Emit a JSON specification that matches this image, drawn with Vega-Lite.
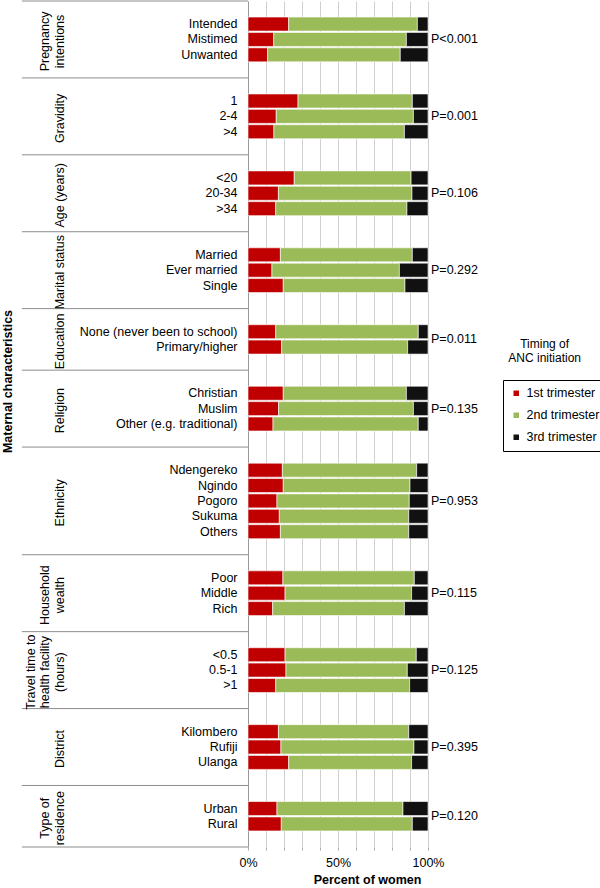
{
  "$schema": "https://vega.github.io/schema/vega-lite/v6.json",
  "width": 180,
  "height": 846,
  "autosize": {"type": "none"},
  "padding": {"left": 248, "top": 1, "right": 172, "bottom": 41},
  "background": "white",
  "config": {
    "font": "Liberation Sans", "view": {"stroke": null}, "text": {"font": "Liberation Sans"},
    "axisX": {
      "grid": true, "gridColor": "#d0d0d0", "tickSize": 3, "tickColor": "#aaaaaa", "domain": false,
      "labelOverlap": false, "labelFlush": false, "labelFontSize": 12.5, "labelColor": "black", "labelPadding": 6,
      "titleFontSize": 12.5, "titleFontWeight": "bold", "titleColor": "black", "titlePadding": 5
    }
  },
  "datasets": {
    "bars": [
      {"item": "Intended", "1st trimester": 22.6, "2nd trimester": 71.5, "3rd trimester": 5.9},
      {"item": "Mistimed", "1st trimester": 14.3, "2nd trimester": 73.7, "3rd trimester": 12.0},
      {"item": "Unwanted", "1st trimester": 10.9, "2nd trimester": 73.7, "3rd trimester": 15.4},
      {"item": "1", "1st trimester": 27.8, "2nd trimester": 63.5, "3rd trimester": 8.7},
      {"item": "2-4", "1st trimester": 15.7, "2nd trimester": 76.2, "3rd trimester": 8.1},
      {"item": ">4", "1st trimester": 14.4, "2nd trimester": 72.5, "3rd trimester": 13.1},
      {"item": "<20", "1st trimester": 25.7, "2nd trimester": 64.9, "3rd trimester": 9.4},
      {"item": "20-34", "1st trimester": 16.9, "2nd trimester": 74.2, "3rd trimester": 8.9},
      {"item": ">34", "1st trimester": 15.4, "2nd trimester": 72.9, "3rd trimester": 11.7},
      {"item": "Married", "1st trimester": 18.0, "2nd trimester": 73.3, "3rd trimester": 8.7},
      {"item": "Ever married", "1st trimester": 13.3, "2nd trimester": 70.8, "3rd trimester": 15.9},
      {"item": "Single", "1st trimester": 19.6, "2nd trimester": 67.6, "3rd trimester": 12.8},
      {"item": "None (never been to school)", "1st trimester": 15.4, "2nd trimester": 79.2, "3rd trimester": 5.4},
      {"item": "Primary/higher", "1st trimester": 18.7, "2nd trimester": 70.0, "3rd trimester": 11.3},
      {"item": "Christian", "1st trimester": 19.6, "2nd trimester": 68.4, "3rd trimester": 12.0},
      {"item": "Muslim", "1st trimester": 17.0, "2nd trimester": 74.9, "3rd trimester": 8.1},
      {"item": "Other (e.g. traditional)", "1st trimester": 13.9, "2nd trimester": 80.7, "3rd trimester": 5.4},
      {"item": "Ndengereko", "1st trimester": 19.1, "2nd trimester": 74.6, "3rd trimester": 6.3},
      {"item": "Ngindo", "1st trimester": 19.6, "2nd trimester": 70.4, "3rd trimester": 10.0},
      {"item": "Pogoro", "1st trimester": 16.1, "2nd trimester": 73.5, "3rd trimester": 10.4},
      {"item": "Sukuma", "1st trimester": 17.4, "2nd trimester": 71.9, "3rd trimester": 10.7},
      {"item": "Others", "1st trimester": 18.0, "2nd trimester": 71.3, "3rd trimester": 10.7},
      {"item": "Poor", "1st trimester": 19.4, "2nd trimester": 73.0, "3rd trimester": 7.6},
      {"item": "Middle", "1st trimester": 20.6, "2nd trimester": 70.3, "3rd trimester": 9.1},
      {"item": "Rich", "1st trimester": 13.7, "2nd trimester": 73.2, "3rd trimester": 13.1},
      {"item": "<0.5", "1st trimester": 20.6, "2nd trimester": 72.9, "3rd trimester": 6.5},
      {"item": "0.5-1", "1st trimester": 21.1, "2nd trimester": 67.4, "3rd trimester": 11.5},
      {"item": ">1", "1st trimester": 15.4, "2nd trimester": 74.4, "3rd trimester": 10.2},
      {"item": "Kilombero", "1st trimester": 16.9, "2nd trimester": 72.4, "3rd trimester": 10.7},
      {"item": "Rufiji", "1st trimester": 18.3, "2nd trimester": 73.9, "3rd trimester": 7.8},
      {"item": "Ulanga", "1st trimester": 22.6, "2nd trimester": 68.3, "3rd trimester": 9.1},
      {"item": "Urban", "1st trimester": 16.1, "2nd trimester": 70.0, "3rd trimester": 13.9},
      {"item": "Rural", "1st trimester": 18.5, "2nd trimester": 72.8, "3rd trimester": 8.7}
    ],
    "groups": [
      {"item": "Mistimed", "label": "Pregnancy\nintentions", "p": "P<0.001", "even": false},
      {"item": "2-4", "label": "Gravidity", "p": "P=0.001", "even": false},
      {"item": "20-34", "label": "Age (years)", "p": "P=0.106", "even": false},
      {"item": "Ever married", "label": "Marital status", "p": "P=0.292", "even": false},
      {"item": "None (never been to school)", "label": "Education", "p": "P=0.011", "even": true},
      {"item": "Muslim", "label": "Religion", "p": "P=0.135", "even": false},
      {"item": "Pogoro", "label": "Ethnicity", "p": "P=0.953", "even": false},
      {"item": "Middle", "label": "Household\nwealth", "p": "P=0.115", "even": false},
      {"item": "0.5-1", "label": "Travel time to\nhealth facility\n(hours)", "p": "P=0.125", "even": false},
      {"item": "Rufiji", "label": "District", "p": "P=0.395", "even": false},
      {"item": "Urban", "label": "Type of\nresidence", "p": "P=0.120", "even": true}
    ],
    "seps": [
      {"item": "_1a"}, {"item": "_2a"}, {"item": "_3a"}, {"item": "_4a"}, {"item": "_5a"}, {"item": "_6a"},
      {"item": "_7a"}, {"item": "_8a"}, {"item": "_9a"}, {"item": "_10a"}, {"item": "_11a"}
    ],
    "sepEnd": [{"item": "_11b"}],
    "legendTitle": [{"t": "Timing of\nANC initiation"}]
  },
  "layer": [
    {
      "data": {"name": "bars"},
      "transform": [{"fold": ["1st trimester", "2nd trimester", "3rd trimester"], "as": ["trimester", "pct"]}],
      "mark": {"type": "bar", "height": {"band": 0.91}, "stroke": "white", "strokeWidth": 0.6},
      "encoding": {
        "y": {
          "field": "item", "type": "nominal", "sort": null,
          "scale": {"domain": ["_1a","Intended","Mistimed","Unwanted","_1b","_2a","1","2-4",">4","_2b","_3a","<20","20-34",">34","_3b","_4a","Married","Ever married","Single","_4b","_5a","None (never been to school)","Primary/higher","_5b","_6a","Christian","Muslim","Other (e.g. traditional)","_6b","_7a","Ndengereko","Ngindo","Pogoro","Sukuma","Others","_7b","_8a","Poor","Middle","Rich","_8b","_9a","<0.5","0.5-1",">1","_9b","_10a","Kilombero","Rufiji","Ulanga","_10b","_11a","Urban","Rural","_11b"], "paddingInner": 0, "paddingOuter": 0},
          "axis": {
            "title": "Maternal characteristics", "titleFontSize": 12.5, "titleFontWeight": "bold", "titleColor": "black",
            "titleAngle": 270, "titleX": -241, "titleY": 380, "titleAlign": "center", "titleBaseline": "middle",
            "labelExpr": "indexof(datum.label, '_') == 0 ? '' : datum.label",
            "labelFontSize": 12.5, "labelColor": "black", "labelPadding": 11, "labelLimit": 250,
            "ticks": false, "domainColor": "#999", "grid": false
          }
        },
        "x": {
          "field": "pct", "type": "quantitative", "stack": "zero",
          "scale": {"domain": [0, 100], "nice": false},
          "axis": {"tickCount": 10, "labelFlush": false, "labelExpr": "datum.value == 0 || datum.value == 50 || datum.value == 100 ? datum.value + '%' : ''", "title": "Percent of women", "titleX": 119}
        },
        "color": {
          "field": "trimester", "type": "nominal",
          "scale": {"domain": ["1st trimester", "2nd trimester", "3rd trimester"], "range": ["#C00000", "#9BBB59", "#111111"]},
          "legend": {
            "title": null, "orient": "none", "legendX": 255, "legendY": 379, "direction": "vertical",
            "strokeColor": "black", "fillColor": "white", "padding": 7,
            "symbolType": "square", "symbolSize": 30, "symbolStrokeWidth": 0,
            "labelFontSize": 12.5, "labelColor": "black", "labelOffset": 4, "rowPadding": 9,
            "encode": {"legend": {"update": {"strokeWidth": {"value": 2.5}}}}
          }
        },
        "order": {"field": "trimester"}
      }
    },
    {
      "data": {"name": "seps"},
      "mark": {"type": "rule", "color": "#8c8c8c", "strokeWidth": 1},
      "encoding": {
        "y": {"field": "item", "type": "nominal", "bandPosition": 0,
          "scale": {"domain": ["_1a","Intended","Mistimed","Unwanted","_1b","_2a","1","2-4",">4","_2b","_3a","<20","20-34",">34","_3b","_4a","Married","Ever married","Single","_4b","_5a","None (never been to school)","Primary/higher","_5b","_6a","Christian","Muslim","Other (e.g. traditional)","_6b","_7a","Ndengereko","Ngindo","Pogoro","Sukuma","Others","_7b","_8a","Poor","Middle","Rich","_8b","_9a","<0.5","0.5-1",">1","_9b","_10a","Kilombero","Rufiji","Ulanga","_10b","_11a","Urban","Rural","_11b"], "paddingInner": 0, "paddingOuter": 0}},
        "x": {"datum": -125.6, "type": "quantitative", "scale": {"domain": [0, 100], "nice": false},
          "axis": {"tickCount": 10, "labelFlush": false, "labelExpr": "datum.value == 0 || datum.value == 50 || datum.value == 100 ? datum.value + '%' : ''", "title": "Percent of women", "titleX": 119}},
        "x2": {"datum": 0}
      }
    },
    {
      "data": {"name": "sepEnd"},
      "mark": {"type": "rule", "color": "#8c8c8c", "strokeWidth": 1},
      "encoding": {
        "y": {"field": "item", "type": "nominal", "bandPosition": 1,
          "scale": {"domain": ["_1a","Intended","Mistimed","Unwanted","_1b","_2a","1","2-4",">4","_2b","_3a","<20","20-34",">34","_3b","_4a","Married","Ever married","Single","_4b","_5a","None (never been to school)","Primary/higher","_5b","_6a","Christian","Muslim","Other (e.g. traditional)","_6b","_7a","Ndengereko","Ngindo","Pogoro","Sukuma","Others","_7b","_8a","Poor","Middle","Rich","_8b","_9a","<0.5","0.5-1",">1","_9b","_10a","Kilombero","Rufiji","Ulanga","_10b","_11a","Urban","Rural","_11b"], "paddingInner": 0, "paddingOuter": 0}},
        "x": {"datum": -125.6, "type": "quantitative", "scale": {"domain": [0, 100], "nice": false},
          "axis": {"tickCount": 10, "labelFlush": false, "labelExpr": "datum.value == 0 || datum.value == 50 || datum.value == 100 ? datum.value + '%' : ''", "title": "Percent of women", "titleX": 119}},
        "x2": {"datum": 0}
      }
    },
    {
      "data": {"name": "groups"},
      "transform": [{"filter": "!datum.even && length(split(datum.label, '\\n')) == 1"}],
      "mark": {"type": "text", "angle": 270, "baseline": "bottom", "align": "center", "fontSize": 12.5, "lineBreak": "\n", "lineHeight": 14.5, "color": "black", "dx": -2},
      "encoding": {
        "y": {"field": "item", "type": "nominal",
          "scale": {"domain": ["_1a","Intended","Mistimed","Unwanted","_1b","_2a","1","2-4",">4","_2b","_3a","<20","20-34",">34","_3b","_4a","Married","Ever married","Single","_4b","_5a","None (never been to school)","Primary/higher","_5b","_6a","Christian","Muslim","Other (e.g. traditional)","_6b","_7a","Ndengereko","Ngindo","Pogoro","Sukuma","Others","_7b","_8a","Poor","Middle","Rich","_8b","_9a","<0.5","0.5-1",">1","_9b","_10a","Kilombero","Rufiji","Ulanga","_10b","_11a","Urban","Rural","_11b"], "paddingInner": 0, "paddingOuter": 0}},
        "x": {"datum": -100.7, "type": "quantitative", "scale": {"domain": [0, 100], "nice": false},
          "axis": {"tickCount": 10, "labelFlush": false, "labelExpr": "datum.value == 0 || datum.value == 50 || datum.value == 100 ? datum.value + '%' : ''", "title": "Percent of women", "titleX": 119}},
        "text": {"field": "label"}
      }
    },
    {
      "data": {"name": "groups"},
      "transform": [{"filter": "datum.even && length(split(datum.label, '\\n')) == 1"}],
      "mark": {"type": "text", "angle": 270, "baseline": "bottom", "align": "center", "fontSize": 12.5, "lineBreak": "\n", "lineHeight": 14.5, "color": "black", "dx": -2},
      "encoding": {
        "y": {"field": "item", "type": "nominal", "bandPosition": 1,
          "scale": {"domain": ["_1a","Intended","Mistimed","Unwanted","_1b","_2a","1","2-4",">4","_2b","_3a","<20","20-34",">34","_3b","_4a","Married","Ever married","Single","_4b","_5a","None (never been to school)","Primary/higher","_5b","_6a","Christian","Muslim","Other (e.g. traditional)","_6b","_7a","Ndengereko","Ngindo","Pogoro","Sukuma","Others","_7b","_8a","Poor","Middle","Rich","_8b","_9a","<0.5","0.5-1",">1","_9b","_10a","Kilombero","Rufiji","Ulanga","_10b","_11a","Urban","Rural","_11b"], "paddingInner": 0, "paddingOuter": 0}},
        "x": {"datum": -100.7, "type": "quantitative", "scale": {"domain": [0, 100], "nice": false},
          "axis": {"tickCount": 10, "labelFlush": false, "labelExpr": "datum.value == 0 || datum.value == 50 || datum.value == 100 ? datum.value + '%' : ''", "title": "Percent of women", "titleX": 119}},
        "text": {"field": "label"}
      }
    },
    {
      "data": {"name": "groups"},
      "transform": [{"filter": "!datum.even && length(split(datum.label, '\\n')) == 2"}],
      "mark": {"type": "text", "angle": 270, "baseline": "bottom", "align": "center", "fontSize": 12.5, "lineBreak": "\n", "lineHeight": 14.5, "color": "black", "dx": -2},
      "encoding": {
        "y": {"field": "item", "type": "nominal",
          "scale": {"domain": ["_1a","Intended","Mistimed","Unwanted","_1b","_2a","1","2-4",">4","_2b","_3a","<20","20-34",">34","_3b","_4a","Married","Ever married","Single","_4b","_5a","None (never been to school)","Primary/higher","_5b","_6a","Christian","Muslim","Other (e.g. traditional)","_6b","_7a","Ndengereko","Ngindo","Pogoro","Sukuma","Others","_7b","_8a","Poor","Middle","Rich","_8b","_9a","<0.5","0.5-1",">1","_9b","_10a","Kilombero","Rufiji","Ulanga","_10b","_11a","Urban","Rural","_11b"], "paddingInner": 0, "paddingOuter": 0}},
        "x": {"datum": -108.8, "type": "quantitative", "scale": {"domain": [0, 100], "nice": false},
          "axis": {"tickCount": 10, "labelFlush": false, "labelExpr": "datum.value == 0 || datum.value == 50 || datum.value == 100 ? datum.value + '%' : ''", "title": "Percent of women", "titleX": 119}},
        "text": {"field": "label"}
      }
    },
    {
      "data": {"name": "groups"},
      "transform": [{"filter": "datum.even && length(split(datum.label, '\\n')) == 2"}],
      "mark": {"type": "text", "angle": 270, "baseline": "bottom", "align": "center", "fontSize": 12.5, "lineBreak": "\n", "lineHeight": 14.5, "color": "black", "dx": -2},
      "encoding": {
        "y": {"field": "item", "type": "nominal", "bandPosition": 1,
          "scale": {"domain": ["_1a","Intended","Mistimed","Unwanted","_1b","_2a","1","2-4",">4","_2b","_3a","<20","20-34",">34","_3b","_4a","Married","Ever married","Single","_4b","_5a","None (never been to school)","Primary/higher","_5b","_6a","Christian","Muslim","Other (e.g. traditional)","_6b","_7a","Ndengereko","Ngindo","Pogoro","Sukuma","Others","_7b","_8a","Poor","Middle","Rich","_8b","_9a","<0.5","0.5-1",">1","_9b","_10a","Kilombero","Rufiji","Ulanga","_10b","_11a","Urban","Rural","_11b"], "paddingInner": 0, "paddingOuter": 0}},
        "x": {"datum": -108.8, "type": "quantitative", "scale": {"domain": [0, 100], "nice": false},
          "axis": {"tickCount": 10, "labelFlush": false, "labelExpr": "datum.value == 0 || datum.value == 50 || datum.value == 100 ? datum.value + '%' : ''", "title": "Percent of women", "titleX": 119}},
        "text": {"field": "label"}
      }
    },
    {
      "data": {"name": "groups"},
      "transform": [{"filter": "length(split(datum.label, '\\n')) == 3"}],
      "mark": {"type": "text", "angle": 270, "baseline": "bottom", "align": "center", "fontSize": 12.5, "lineBreak": "\n", "lineHeight": 14.5, "color": "black", "dx": -2},
      "encoding": {
        "y": {"field": "item", "type": "nominal",
          "scale": {"domain": ["_1a","Intended","Mistimed","Unwanted","_1b","_2a","1","2-4",">4","_2b","_3a","<20","20-34",">34","_3b","_4a","Married","Ever married","Single","_4b","_5a","None (never been to school)","Primary/higher","_5b","_6a","Christian","Muslim","Other (e.g. traditional)","_6b","_7a","Ndengereko","Ngindo","Pogoro","Sukuma","Others","_7b","_8a","Poor","Middle","Rich","_8b","_9a","<0.5","0.5-1",">1","_9b","_10a","Kilombero","Rufiji","Ulanga","_10b","_11a","Urban","Rural","_11b"], "paddingInner": 0, "paddingOuter": 0}},
        "x": {"datum": -116.8, "type": "quantitative", "scale": {"domain": [0, 100], "nice": false},
          "axis": {"tickCount": 10, "labelFlush": false, "labelExpr": "datum.value == 0 || datum.value == 50 || datum.value == 100 ? datum.value + '%' : ''", "title": "Percent of women", "titleX": 119}},
        "text": {"field": "label"}
      }
    },
    {
      "data": {"name": "groups"},
      "transform": [{"filter": "!datum.even"}],
      "mark": {"type": "text", "baseline": "middle", "align": "left", "fontSize": 12.5, "color": "black", "dx": 3},
      "encoding": {
        "y": {"field": "item", "type": "nominal",
          "scale": {"domain": ["_1a","Intended","Mistimed","Unwanted","_1b","_2a","1","2-4",">4","_2b","_3a","<20","20-34",">34","_3b","_4a","Married","Ever married","Single","_4b","_5a","None (never been to school)","Primary/higher","_5b","_6a","Christian","Muslim","Other (e.g. traditional)","_6b","_7a","Ndengereko","Ngindo","Pogoro","Sukuma","Others","_7b","_8a","Poor","Middle","Rich","_8b","_9a","<0.5","0.5-1",">1","_9b","_10a","Kilombero","Rufiji","Ulanga","_10b","_11a","Urban","Rural","_11b"], "paddingInner": 0, "paddingOuter": 0}},
        "x": {"datum": 100, "type": "quantitative", "scale": {"domain": [0, 100], "nice": false},
          "axis": {"tickCount": 10, "labelFlush": false, "labelExpr": "datum.value == 0 || datum.value == 50 || datum.value == 100 ? datum.value + '%' : ''", "title": "Percent of women", "titleX": 119}},
        "text": {"field": "p"}
      }
    },
    {
      "data": {"name": "groups"},
      "transform": [{"filter": "datum.even"}],
      "mark": {"type": "text", "baseline": "middle", "align": "left", "fontSize": 12.5, "color": "black", "dx": 3},
      "encoding": {
        "y": {"field": "item", "type": "nominal", "bandPosition": 1,
          "scale": {"domain": ["_1a","Intended","Mistimed","Unwanted","_1b","_2a","1","2-4",">4","_2b","_3a","<20","20-34",">34","_3b","_4a","Married","Ever married","Single","_4b","_5a","None (never been to school)","Primary/higher","_5b","_6a","Christian","Muslim","Other (e.g. traditional)","_6b","_7a","Ndengereko","Ngindo","Pogoro","Sukuma","Others","_7b","_8a","Poor","Middle","Rich","_8b","_9a","<0.5","0.5-1",">1","_9b","_10a","Kilombero","Rufiji","Ulanga","_10b","_11a","Urban","Rural","_11b"], "paddingInner": 0, "paddingOuter": 0}},
        "x": {"datum": 100, "type": "quantitative", "scale": {"domain": [0, 100], "nice": false},
          "axis": {"tickCount": 10, "labelFlush": false, "labelExpr": "datum.value == 0 || datum.value == 50 || datum.value == 100 ? datum.value + '%' : ''", "title": "Percent of women", "titleX": 119}},
        "text": {"field": "p"}
      }
    },
    {
      "data": {"name": "legendTitle"},
      "mark": {"type": "text", "baseline": "middle", "align": "center", "fontSize": 12, "lineBreak": "\n", "lineHeight": 14, "color": "black", "dy": -3.5},
      "encoding": {
        "y": {"datum": "Primary/higher", "type": "nominal",
          "scale": {"domain": ["_1a","Intended","Mistimed","Unwanted","_1b","_2a","1","2-4",">4","_2b","_3a","<20","20-34",">34","_3b","_4a","Married","Ever married","Single","_4b","_5a","None (never been to school)","Primary/higher","_5b","_6a","Christian","Muslim","Other (e.g. traditional)","_6b","_7a","Ndengereko","Ngindo","Pogoro","Sukuma","Others","_7b","_8a","Poor","Middle","Rich","_8b","_9a","<0.5","0.5-1",">1","_9b","_10a","Kilombero","Rufiji","Ulanga","_10b","_11a","Urban","Rural","_11b"], "paddingInner": 0, "paddingOuter": 0}},
        "x": {"datum": 164.8, "type": "quantitative", "scale": {"domain": [0, 100], "nice": false},
          "axis": {"tickCount": 10, "labelFlush": false, "labelExpr": "datum.value == 0 || datum.value == 50 || datum.value == 100 ? datum.value + '%' : ''", "title": "Percent of women", "titleX": 119}},
        "text": {"field": "t"}
      }
    }
  ]
}
